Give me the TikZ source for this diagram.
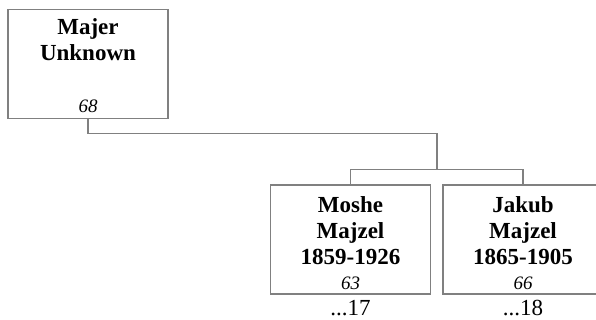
\documentclass[tikz,border=0pt]{standalone}
\usepackage{fontspec}
\setmainfont{Liberation Serif}
\definecolor{linegray}{RGB}{128,128,128}
\begin{document}
\begin{tikzpicture}[x=1pt,y=-1pt,
  personbox/.style={draw=linegray,line width=1.1pt,minimum width=160pt,minimum height=109pt,inner sep=0pt},
  nametext/.style={font=\fontsize{23}{25.7}\selectfont\bfseries,align=center,inner sep=0pt,anchor=base},
  numtext/.style={font=\fontsize{19}{21}\selectfont\itshape,inner sep=0pt,anchor=base},
  reftext/.style={font=\fontsize{23}{25}\selectfont,inner sep=0pt,anchor=base},
  conn/.style={draw=linegray,line width=1.1pt}]
\useasboundingbox (0,0) rectangle (596,320);
\node[personbox] (majer) at (88,64) {};
\node[personbox] (moshe) at (350.5,239.5) {};
\node[personbox] (jakub) at (523,239.5) {};
\node[nametext] (majername) at (88,60.5) {Majer\\Unknown};
\node[numtext] (majernum) at (88,113) {68};
\node[nametext] (moshename) at (350.5,264) {Moshe\\Majzel\\1859-1926};
\node[numtext] (moshenum) at (350.5,289) {63};
\node[reftext] (mosheref) at (350.5,315) {...17};
\node[nametext] (jakubname) at (523,264) {Jakub\\Majzel\\1865-1905};
\node[numtext] (jakubnum) at (523,289) {66};
\node[reftext] (jakubref) at (523,315) {...18};
\coordinate (j1) at (437,133.5);
\coordinate (j2) at (437,169.5);
\draw[conn] (majer.south) |- (j1) -- (j2);
\draw[conn] (moshe.north) |- (j2) -| (jakub.north);
\end{tikzpicture}
\end{document}
